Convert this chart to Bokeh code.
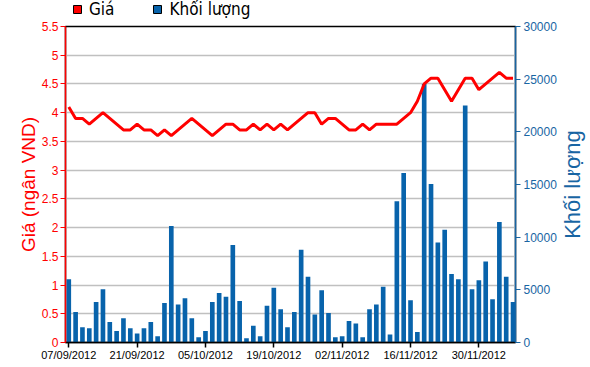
import math
from bokeh.plotting import figure
from bokeh.layouts import column, row
from bokeh.models import (Range1d, LinearAxis, FixedTicker, NumeralTickFormatter,
                          Legend, LegendItem, ColumnDataSource, Label)
from bokeh.embed import file_html
from bokeh.resources import INLINE

# ---- data ----
price = [4.1, 3.9, 3.9, 3.8, 3.9, 4.0, 3.9, 3.8, 3.7, 3.7,
         3.8, 3.7, 3.7, 3.6, 3.7, 3.6, 3.7, 3.8, 3.9, 3.8,
         3.7, 3.6, 3.7, 3.8, 3.8, 3.7, 3.7, 3.8, 3.7, 3.8,
         3.7, 3.8, 3.7, 3.8, 3.9, 4.0, 4.0, 3.8, 3.9, 3.9,
         3.8, 3.7, 3.7, 3.8, 3.7, 3.8, 3.8, 3.8, 3.8, 3.9,
         4.0, 4.2, 4.5, 4.6, 4.6, 4.4, 4.2, 4.4, 4.6, 4.6,
         4.4, 4.5, 4.6, 4.7, 4.6, 4.6]
volume = [6000, 2900, 1450, 1350, 3850, 5050, 1950, 1100, 2300, 1350,
          850, 1350, 1950, 600, 3750, 11050, 3600, 4200, 2300, 500,
          1100, 3850, 4700, 4350, 9250, 3950, 400, 1600, 600, 3500,
          5200, 3150, 1450, 2900, 8800, 6250, 2650, 4950, 2800, 500,
          600, 2050, 1800, 500, 3150, 3600, 5300, 750, 13400, 16100,
          4000, 1000, 24550, 15050, 9500, 10700, 6500, 6000, 22500, 5050,
          5900, 7700, 4100, 11450, 6250, 3850]
tick_idx = [0, 10, 20, 30, 40, 50, 60]
tick_labels = ["07/09/2012", "21/09/2012", "05/10/2012", "19/10/2012",
               "02/11/2012", "16/11/2012", "30/11/2012"]
price_ticks = [0, 0.5, 1, 1.5, 2, 2.5, 3, 3.5, 4, 4.5, 5, 5.5]
vol_ticks = [0, 5000, 10000, 15000, 20000, 25000, 30000]

x = list(range(len(volume)))

RED = "#ff0000"
BLUE = "#0863ab"
AXBLUE = "#1865a3"
FONT = "Liberation Sans"
LEGFONT = "Liberation Sans Narrow, DejaVu Sans Condensed, Liberation Sans"

src = ColumnDataSource(data=dict(x=x, price=price, volume=volume))

# ---------------- main chart ----------------
p = figure(width=560, height=347, output_backend="svg", toolbar_location=None,
           title=None,
           x_range=Range1d(-0.48, 65.36), y_range=Range1d(0, 5.5),
           min_border_left=65, min_border_right=45, min_border_top=6,
           min_border_bottom=25)
p.extra_y_ranges = {"vol": Range1d(0, 30000)}

p.xgrid.visible = False
p.ygrid.grid_line_color = "#c0c0c0"
p.ygrid.grid_line_width = 1.5
p.outline_line_color = "black"
p.outline_line_width = 1.5

p.vbar(x="x", top="volume", width=0.68, y_range_name="vol", source=src,
       fill_color=BLUE, line_color=None)
p.line(x="x", y="price", source=src, line_color=RED, line_width=3)

# x axis
xa = p.xaxis[0]
xa.ticker = FixedTicker(ticks=tick_idx)
xa.major_label_overrides = {i: l for i, l in zip(tick_idx, tick_labels)}
xa.axis_line_color = "black"
xa.axis_line_width = 1.5
xa.major_tick_line_color = "black"
xa.major_tick_line_width = 1.5
xa.major_tick_in = 0
xa.major_tick_out = 5
xa.minor_tick_line_color = None
xa.major_label_standoff = 1
xa.major_label_text_font = FONT
xa.major_label_text_font_size = "11px"
xa.major_label_text_color = "black"

# left axis
ya = p.yaxis[0]
ya.ticker = FixedTicker(ticks=price_ticks)
ya.axis_line_color = RED
ya.axis_line_width = 1.5
ya.major_tick_line_color = RED
ya.major_tick_in = 0
ya.major_tick_out = 5
ya.minor_tick_line_color = None
ya.major_label_standoff = 2
ya.major_label_text_font = FONT
ya.major_label_text_font_size = "12px"
ya.major_label_text_color = RED
ya.axis_label = "Giá (ngân VND)"
ya.axis_label_text_font = FONT
ya.axis_label_text_font_size = "19px"
ya.axis_label_text_font_style = "normal"
ya.axis_label_text_color = RED
ya.axis_label_standoff = 0

# right axis (its title is drawn in the narrow panel to the right)
ra = LinearAxis(y_range_name="vol", ticker=FixedTicker(ticks=vol_ticks),
                formatter=NumeralTickFormatter(format="0"))
ra.axis_line_color = AXBLUE
ra.axis_line_width = 1.5
ra.major_tick_line_color = AXBLUE
ra.major_tick_in = 0
ra.major_tick_out = 5
ra.minor_tick_line_color = None
ra.major_label_standoff = 3
ra.major_label_text_font = FONT
ra.major_label_text_font_size = "12px"
ra.major_label_text_color = AXBLUE
p.add_layout(ra, "right")

# ---------------- right axis title panel ----------------
pr = figure(width=30, height=347, output_backend="svg", toolbar_location=None,
            title=None, x_axis_type=None, y_axis_type=None,
            x_range=Range1d(0, 1), y_range=Range1d(0, 1), min_border=0)
pr.grid.visible = False
pr.outline_line_color = None
pr.add_layout(Label(x=12, y=158, x_units="screen", y_units="screen",
                    text="Khối lượng", angle=math.pi / 2,
                    text_align="center", text_baseline="middle",
                    text_font=FONT, text_font_size="22px",
                    text_color=AXBLUE))

# ---------------- legend panel ----------------
pl = figure(width=590, height=20, output_backend="svg", toolbar_location=None,
            title=None, x_axis_type=None, y_axis_type=None,
            x_range=Range1d(0, 1), y_range=Range1d(0, 1), min_border=0)
pl.grid.visible = False
pl.outline_line_color = None
sw_red = pl.vbar(x="x", top="volume", width=0.68, source=src,
                 fill_color=RED, line_color="black", visible=False)
sw_blue = pl.vbar(x="x", top="volume", width=0.68, source=src,
                  fill_color=BLUE, line_color="black", visible=False)
legend = Legend(items=[LegendItem(label="Giá", renderers=[sw_red]),
                       LegendItem(label="Khối lượng", renderers=[sw_blue])],
                orientation="horizontal", location=(72, 1),
                border_line_alpha=0, background_fill_alpha=0,
                glyph_width=10, glyph_height=10, label_standoff=7,
                spacing=38, padding=0, margin=0,
                label_text_font=LEGFONT, label_text_font_size="17px",
                label_text_color="black", label_height=18)
pl.add_layout(legend, "center")

layout = column(pl, row(p, pr))
open("out.html", "w").write(file_html(layout, INLINE))
